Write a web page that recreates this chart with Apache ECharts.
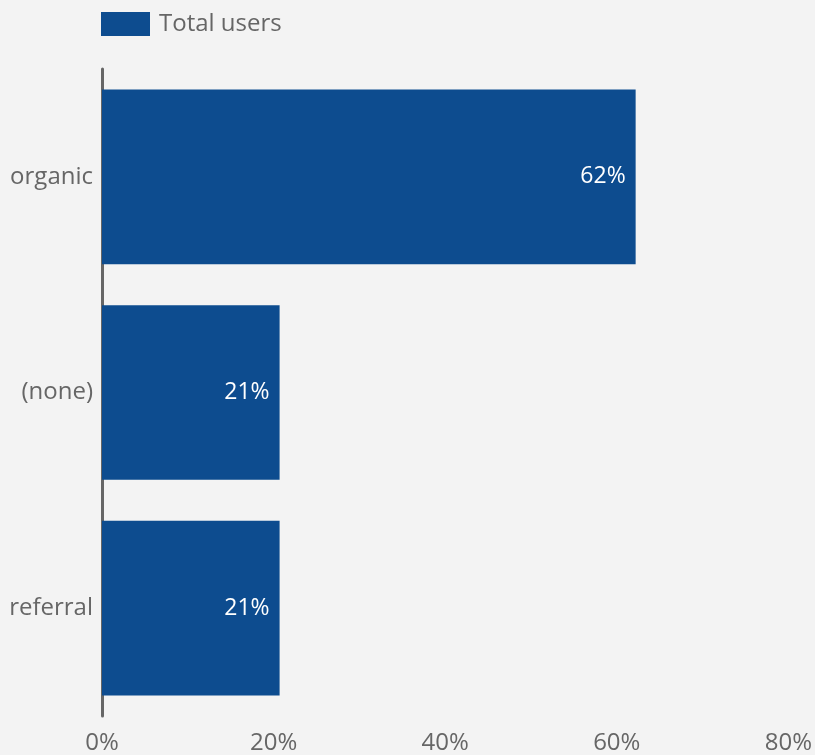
<!DOCTYPE html>
<html>
<head>
<meta charset="utf-8">
<script src="https://cdn.jsdelivr.net/npm/echarts@6/dist/echarts.min.js"></script>
<style>
  html, body { margin:0; padding:0; background:#f3f3f3; }
  #chart { width:815px; height:755px; }
</style>
</head>
<body>
<div id="chart"></div>
<script>
/* ===== data ===== */
const categories = ['organic', '(none)', 'referral'];
const totalUsers = [62.2, 20.7, 20.7];
const tickLabels = ['0%', '20%', '40%', '60%', '80%'];

const chart = echarts.init(document.getElementById('chart'));

chart.setOption({
  backgroundColor:'#f3f3f3',
  textStyle:{ fontFamily:'"Open Sans", sans-serif' },
  legend:{
    left:101, top:12, padding:0,
    icon:'rect',
    itemWidth:49, itemHeight:24,
    itemGap:10,
    textStyle:{ color:'#666', fontSize:24, fontFamily:'"Open Sans", sans-serif', padding:[2,0,0,4] },
    data:['Total users']
  },
  grid:{ left:102, right:25, top:69, bottom:36, containLabel:false },
  xAxis:{
    type:'value',
    min:0, max:80, interval:20,
    axisLine:{ show:false },
    axisTick:{ show:false },
    splitLine:{ show:false },
    axisLabel:{
      color:'#666', fontSize:24, margin:15,
      formatter: v => tickLabels[v / 20]
    }
  },
  yAxis:{
    type:'category',
    inverse:true,
    data:categories,
    axisLine:{ show:true, lineStyle:{ color:'#666', width:3 } },
    axisTick:{ show:false },
    axisLabel:{ color:'#666', fontSize:24, margin:9 }
  },
  series:[{
    name:'Total users',
    type:'bar',
    data:totalUsers,
    barCategoryGap:'19%',
    itemStyle:{ color:'#0d4c8f' },
    label:{
      show:true,
      position:'insideRight',
      distance:10,
      color:'#fff',
      fontSize:23,
      formatter: p => Math.round(p.value) + '%'
    }
  }]
});
</script>
</body>
</html>
